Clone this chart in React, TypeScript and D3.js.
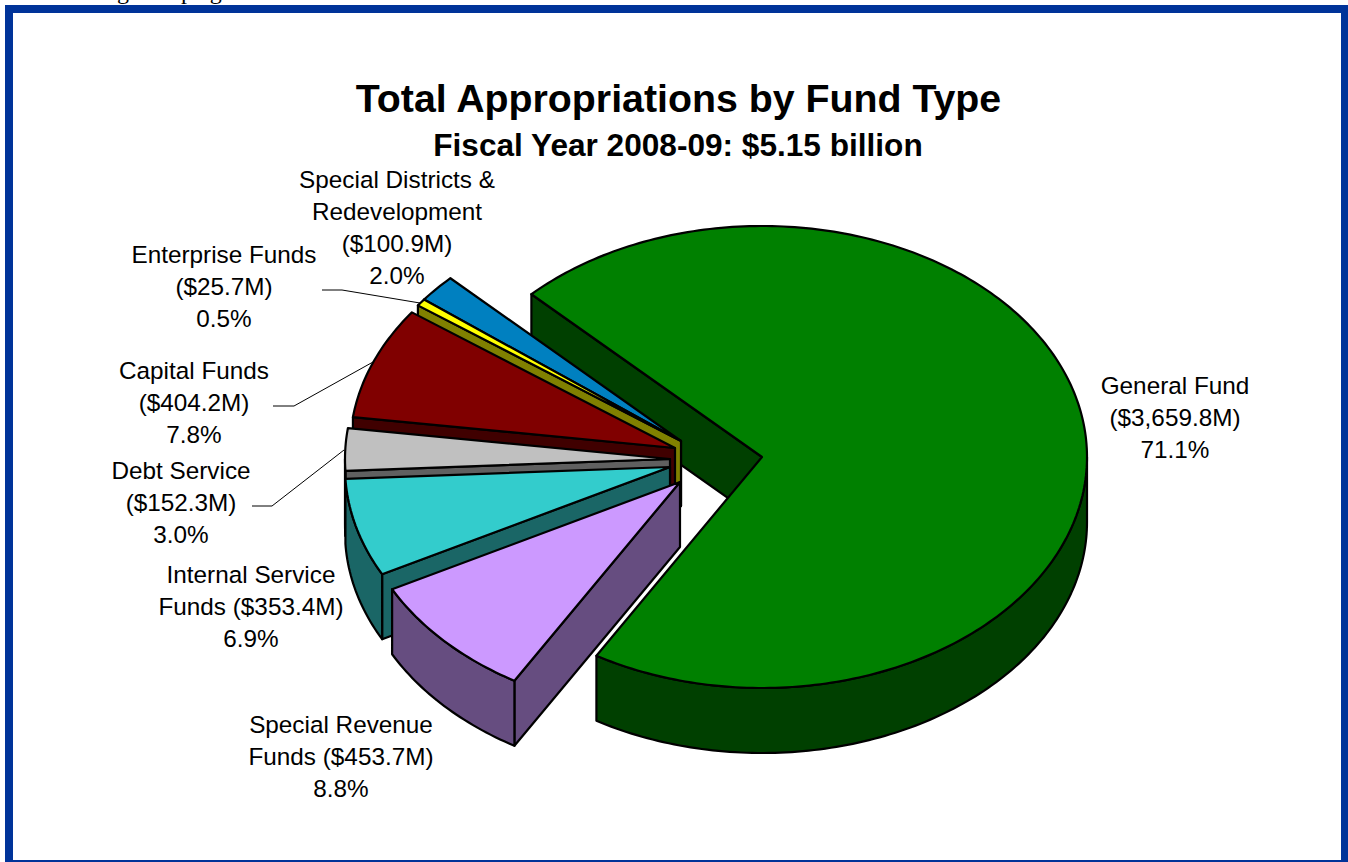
import React from "react";
import * as d3 from "d3";

// Fund appropriations, $ millions, clockwise from the General Fund
const funds = [
  "General Fund",
  "Special Revenue Funds",
  "Internal Service Funds",
  "Debt Service",
  "Capital Funds",
  "Enterprise Funds",
  "Special Districts & Redevelopment",
];
const appropriations = [3659.8, 453.7, 353.4, 152.3, 404.2, 25.7, 100.9];
const topColors = ["#008000", "#CC99FF", "#33CCCC", "#C0C0C0", "#800000", "#FFFF00", "#0080C0"];
const sideColors = ["#004000", "#664D80", "#1A6666", "#606060", "#400000", "#808000", "#004060"];

const titleText = "Total Appropriations by Fund Type";
const subtitleText = "Fiscal Year 2008-09: $5.15 billion";

const WIDTH = 1348;
const HEIGHT = 862;

// Oblique pie projection
const RX = 325;
const RY = 231;
const DEPTH = 65;
const START_DEG = -45.2;
const apexes: [number, number][] = [
  [762, 457],
  [680, 482],
  [670, 467],
  [670, 459],
  [675, 448],
  [681, 441],
  [681, 441],
];
const paintOrder = [0, 6, 5, 4, 3, 2, 1];

// Text layout: centre x and first baseline of each label, wrapped lines per fund
const labelAnchors: [number, number][] = [
  [1175, 394],
  [341, 733],
  [251, 583],
  [181, 479],
  [194, 379],
  [224, 263],
  [397, 188],
];
const nameLines = [
  ["General Fund"],
  ["Special Revenue"],
  ["Internal Service"],
  ["Debt Service"],
  ["Capital Funds"],
  ["Enterprise Funds"],
  ["Special Districts &", "Redevelopment"],
];
const namePrefixBeforeAmount = ["", "Funds ", "Funds ", "", "", "", ""];
const leaders: [number, number][][] = [
  [[322, 290], [342, 290], [420, 303]],
  [[273, 406], [294, 406], [373, 362]],
  [[252, 506], [272, 506], [344, 450]],
];

const angleScale = d3.scaleLinear().domain([0, 360]).range([0, 2 * Math.PI]);
const toDeg = angleScale.invert;
const line = d3.line();
const money = d3.format(",.1f");
const pct = d3.format(".1%");
const total = d3.sum(appropriations);

const pieAngles = d3
  .pie<number>()
  .sort(null)
  .startAngle(angleScale(START_DEG))
  .endAngle(angleScale(START_DEG + 360))(appropriations);

function rimPoint(apex: [number, number], rad: number, drop = 0): [number, number] {
  return [apex[0] + RX * Math.sin(rad), apex[1] - RY * Math.cos(rad) + drop];
}

function arcPoints(apex: [number, number], a0: number, a1: number, drop = 0) {
  const steps = Math.max(2, Math.ceil(Math.abs(toDeg(a1 - a0))));
  return d3.range(steps + 1).map((i) => rimPoint(apex, a0 + ((a1 - a0) * i) / steps, drop));
}

// Outer wall faces the viewer only on the lower half of the rim
function wallPath(apex: [number, number], a0: number, a1: number) {
  const lo = Math.max(a0, angleScale(90));
  const hi = Math.min(a1, angleScale(270));
  if (hi <= lo) return null;
  return (
    line([...arcPoints(apex, lo, hi), ...arcPoints(apex, lo, hi, DEPTH).reverse()]) + "Z"
  );
}

function cutPath(apex: [number, number], a0: number) {
  const rim = rimPoint(apex, a0);
  const rimLow = rimPoint(apex, a0, DEPTH);
  const apexLow: [number, number] = [apex[0], apex[1] + DEPTH];
  return line([apex, rim, rimLow, apexLow]) + "Z";
}

function topPath(apex: [number, number], a0: number, a1: number) {
  return line([apex, ...arcPoints(apex, a0, a1)]) + "Z";
}

const labelLines = funds.map((_, i) => [
  ...nameLines[i],
  `${namePrefixBeforeAmount[i]}($${money(appropriations[i])}M)`,
  pct(appropriations[i] / total),
]);

export default function App() {
  return (
    <svg
      width={WIDTH}
      height={HEIGHT}
      viewBox={`0 0 ${WIDTH} ${HEIGHT}`}
      style={{ position: "absolute", left: 0, top: 0, display: "block", background: "#fff" }}
    >
      {/* Running text of the page above the frame */}
      <g fontFamily="'Liberation Serif'" fontSize={24} fill="#000">
        <text x={117} y={-1}>g</text>
        <text x={181} y={-1} letterSpacing={3}>pag</text>
      </g>

      {/* Frame */}
      <rect x={5} y={5} width={1500} height={1000} fill="#003399" />
      <rect x={13} y={13} width={1328} height={847} fill="#fff" />

      <text
        x={678.5}
        y={112}
        textAnchor="middle"
        fontFamily="'Liberation Sans'"
        fontWeight={700}
        fontSize={39.3}
      >
        {titleText}
      </text>
      <text
        x={678}
        y={156}
        textAnchor="middle"
        fontFamily="'Liberation Sans'"
        fontWeight={700}
        fontSize={31.6}
      >
        {subtitleText}
      </text>

      {/* Slices, painted from back to front */}
      <g stroke="#000" strokeWidth={2.2} strokeLinejoin="round">
        {paintOrder.map((i) => {
          const apex = apexes[i];
          const { startAngle: a0, endAngle: a1 } = pieAngles[i];
          const wall = wallPath(apex, a0, a1);
          return (
            <g key={funds[i]}>
              <path d={cutPath(apex, a0)} fill={sideColors[i]} />
              {wall && <path d={wall} fill={sideColors[i]} />}
              <path d={topPath(apex, a0, a1)} fill={topColors[i]} />
            </g>
          );
        })}
      </g>

      {/* Leader lines */}
      <g fill="none" stroke="#000" strokeWidth={1}>
        {leaders.map((pts, i) => (
          <path key={i} d={line(pts) ?? ""} />
        ))}
      </g>

      {/* Labels */}
      <g fontFamily="'Liberation Sans'" fontSize={24.3} textAnchor="middle" fill="#000">
        {labelLines.map((lines, i) =>
          lines.map((s, j) => (
            <text key={`${i}-${j}`} x={labelAnchors[i][0]} y={labelAnchors[i][1] + j * 32}>
              {s}
            </text>
          ))
        )}
      </g>
    </svg>
  );
}
